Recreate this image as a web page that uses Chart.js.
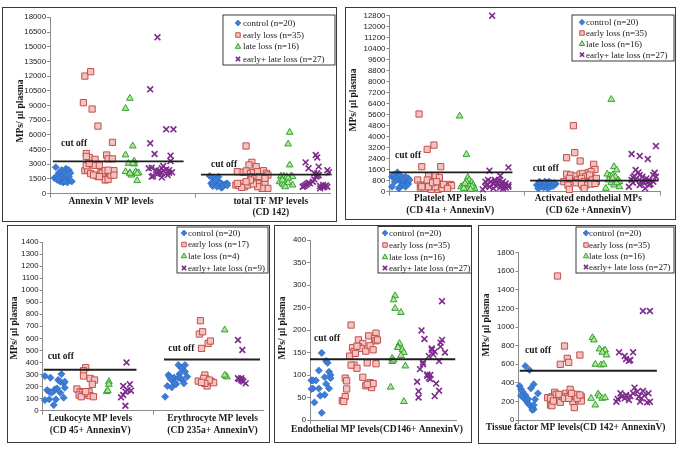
<!DOCTYPE html>
<html>
<head>
<meta charset="utf-8">
<script src="https://cdn.jsdelivr.net/npm/chart.js@4.4.0/dist/chart.umd.min.js"></script>
<style>
  html, body { margin: 0; padding: 0; background: #fff; }
  body { position: relative; width: 683px; height: 451px; overflow: hidden; }
  .panel { position: absolute; border: 1px solid #3a3a3a; box-sizing: border-box; }
  .panel div { position: absolute; left: 0; top: 0; }
</style>
</head>
<body>
<div class="panel" id="p1"><div><canvas></canvas></div></div>
<div class="panel" id="p2"><div><canvas></canvas></div></div>
<div class="panel" id="p3"><div><canvas></canvas></div></div>
<div class="panel" id="p4"><div><canvas></canvas></div></div>
<div class="panel" id="p5"><div><canvas></canvas></div></div>
<script>
// ---- data: [jitter position, MPs/µl] ----
// panel 1 : Annexin V (0-10) / total TF (10-20)
var annexinControl = [[0.4,2700],[0.8,2400],[1.1,2550],[1.3,2400],[0.6,2100],[1.0,2100],[0.3,1600],[0.5,1400],[0.7,1250],[0.9,1150],[1.1,1400],[1.3,1750],[1.5,1250],[0.8,1750],[1.0,1600],[0.5,1800],[1.4,2100],[1.2,1150],[0.6,1550],[1.0,1250]];
var annexinEarly = [[2.4,12000],[2.8,12450],[2.3,9290],[2.9,8640],[3.3,6900],[4.3,5240],[2.5,4100],[2.7,3700],[3.1,3500],[3.9,3950],[4.0,3550],[4.3,3550],[2.4,2350],[2.6,2400],[2.5,2850],[3.1,2900],[3.4,2900],[2.8,2050],[3.2,1870],[3.5,2200],[3.7,1750],[3.3,1750],[3.0,1900],[3.8,1400],[4.0,1450],[4.1,2050],[4.2,1900],[4.4,2350],[4.4,1900],[3.6,2100],[2.5,3800],[3.8,2350],[2.7,3100],[3.4,1750],[4.0,2400]];
var annexinLate = [[5.2,8700],[5.5,9730],[5.7,4870],[5.2,3950],[5.4,3100],[5.8,3330],[5.8,3030],[5.2,2250],[5.5,2140],[5.6,1900],[5.9,2250],[6.1,2140],[6.0,1330],[5.7,3100],[5.5,2080],[6.0,2080]];
var annexinBoth = [[7.4,15960],[6.9,10650],[6.9,5140],[7.2,4050],[8.0,6570],[8.5,6570],[8.3,3880],[8.3,3330],[6.8,2590],[7.0,2650],[7.3,2400],[7.5,2350],[7.7,2590],[7.8,2820],[8.0,2480],[7.6,2080],[7.4,2000],[7.0,1740],[7.1,1800],[7.7,1670],[8.1,1900],[8.2,2140],[8.4,2180],[8.2,2400],[7.5,2250],[7.7,2180],[8.0,2080]];
var tfControl = [[11.0,1800],[11.3,1560],[11.6,1730],[11.1,1050],[11.3,990],[11.4,1220],[11.6,880],[11.8,1050],[11.9,880],[12.1,990],[12.2,1050],[11.2,780],[11.5,710],[11.8,610],[11.2,1220],[11.7,1120],[12.0,880],[11.4,1390],[11.9,710],[12.2,850]];
var tfEarly = [[13.5,4870],[13.9,3200],[13.7,2930],[14.2,2760],[12.9,2250],[13.3,2180],[13.5,2320],[13.8,2080],[14.0,2140],[14.3,2250],[14.7,2350],[14.9,2080],[15.0,1900],[13.9,1740],[14.1,1570],[14.4,1740],[12.8,890],[13.0,820],[13.3,1050],[13.4,710],[13.6,890],[13.9,1220],[14.2,1120],[14.4,1050],[14.7,890],[14.8,1120],[15.0,545],[14.6,545],[14.3,710],[14.0,990],[13.8,1390],[13.2,650],[14.8,1570],[12.9,1050],[13.5,1220]];
var tfLate = [[16.5,6260],[16.4,5070],[16.5,2930],[15.9,1800],[16.1,1800],[16.3,1740],[16.6,1800],[16.7,1740],[15.8,1220],[16.0,1050],[16.1,890],[16.2,710],[16.7,890],[16.4,1570],[16.0,1390],[16.4,1120]];
var tfBoth = [[17.6,3200],[18.3,3950],[18.4,3700],[17.8,2590],[18.5,2760],[18.2,2080],[19.1,2400],[19.2,2180],[17.4,710],[17.6,890],[17.8,1120],[17.9,1050],[18.1,1220],[18.2,1460],[18.4,1800],[18.5,1900],[18.6,780],[18.8,650],[18.9,710],[19.0,850],[19.1,710],[18.6,545],[18.8,890],[17.7,990],[18.3,1740],[18.4,2080],[17.5,780]];

// panel 2 : Platelet (0-10) / Activated endothelial (10-20)
var plateletControl = [[0.2,1090],[0.3,1210],[0.6,1400],[0.5,970],[0.7,850],[0.9,730],[1.1,650],[1.3,780],[1.4,970],[0.2,360],[0.7,240],[0.8,360],[1.0,485],[1.2,360],[1.4,560],[0.4,730],[1.0,850],[1.5,850],[1.2,1090],[0.8,1210]];
var plateletEarly = [[2.2,5650],[3.3,3390],[2.8,3080],[2.4,1820],[3.8,1820],[2.9,1160],[3.4,1160],[3.7,1020],[2.1,850],[2.3,485],[2.5,410],[2.8,530],[3.0,485],[3.2,360],[3.5,560],[3.7,485],[4.0,360],[4.2,410],[4.5,530],[2.3,240],[2.6,240],[3.1,170],[3.6,170],[4.1,240],[4.3,360],[2.9,360],[3.4,360],[3.9,240],[2.4,360],[2.8,850],[3.2,650],[4.6,440],[4.0,530],[3.5,730],[4.3,240]];
var plateletLate = [[5.2,5500],[5.7,2710],[5.8,1040],[5.9,850],[6.1,650],[6.2,485],[5.3,360],[5.5,485],[5.7,310],[5.9,485],[6.3,240],[5.5,240],[5.7,730],[6.1,360],[5.6,600],[6.0,170]];
var plateletBoth = [[7.6,12800],[8.8,1770],[7.4,1530],[8.2,1160],[7.1,730],[7.3,850],[7.5,730],[7.8,850],[8.0,650],[8.3,560],[8.5,485],[8.8,360],[7.2,485],[7.4,360],[7.7,560],[7.9,410],[8.2,310],[8.4,240],[8.6,310],[6.9,170],[7.1,360],[7.8,730],[8.1,850],[8.4,730],[8.6,600],[7.7,240],[8.8,485]];
var activatedControl = [[10.9,485],[11.1,650],[11.2,560],[11.4,600],[11.6,650],[11.8,560],[12.0,600],[12.1,485],[12.3,560],[11.0,240],[11.2,360],[11.4,310],[11.5,410],[11.7,240],[11.9,360],[12.1,410],[11.1,730],[11.5,730],[11.8,730],[12.2,650]];
var activatedEarly = [[13.6,4800],[13.7,2840],[13.1,2470],[14.1,2230],[15.1,1990],[15.2,1620],[13.1,1280],[13.4,1210],[13.8,1140],[14.1,1280],[14.3,1330],[14.7,1380],[14.9,1450],[14.5,1090],[14.8,1210],[13.3,850],[13.6,730],[13.9,850],[14.2,970],[14.4,730],[14.7,650],[15.0,850],[15.3,730],[12.9,730],[13.2,485],[13.3,170],[14.3,410],[14.5,485],[14.9,560],[15.2,600],[13.8,650],[14.2,560],[13.3,970],[14.4,240],[15.3,970]];
var activatedLate = [[16.4,6710],[16.6,1820],[16.8,1580],[16.1,1280],[16.3,1140],[16.5,1210],[16.7,1090],[16.9,850],[17.0,730],[16.0,240],[16.4,650],[16.6,485],[17.0,360],[16.2,850],[16.8,650],[16.5,970]];
var activatedBoth = [[17.9,2740],[18.5,2590],[19.1,2380],[19.7,3320],[18.2,1580],[18.4,1400],[18.1,1140],[18.5,1210],[18.7,1090],[19.0,970],[19.2,850],[19.5,1210],[19.6,1380],[17.9,850],[18.0,650],[17.7,360],[18.6,730],[18.8,650],[19.1,730],[19.3,560],[19.5,730],[18.9,240],[18.2,850],[18.5,485],[19.7,1090],[19.2,485],[18.0,1040]];

// panel 3 : Leukocyte (0-10) / Erythrocyte (10-20)
var leukoControl = [[0.2,287],[0.7,274],[1.7,304],[1.4,255],[1.6,241],[1.9,227],[0.4,171],[0.6,158],[1.0,163],[1.1,177],[0.8,149],[1.3,185],[2.0,191],[0.2,88],[0.6,94],[1.2,94],[1.0,47],[1.6,149],[1.9,108],[2.0,241]];
var leukoEarly = [[3.9,357],[3.7,332],[3.7,288],[4.3,268],[4.7,255],[4.5,219],[3.1,180],[3.4,158],[3.6,149],[3.3,130],[3.8,130],[4.0,144],[4.2,158],[4.3,124],[4.6,116],[3.5,116],[3.9,158]];
var leukoLate = [[6.0,241],[6.0,219],[5.8,158],[5.9,166]];
var leukoBoth = [[7.6,400],[7.9,219],[7.3,205],[7.1,111],[7.3,130],[7.5,158],[7.7,171],[8.0,166],[7.5,41]];
var eryControl = [[11.1,116],[11.3,205],[11.4,296],[11.5,282],[11.7,194],[11.8,246],[11.9,274],[12.1,221],[12.3,274],[12.4,304],[12.3,379],[12.5,268],[12.6,351],[12.7,249],[12.8,227],[12.9,324],[12.9,379],[13.1,282],[11.6,263],[12.0,227]];
var eryEarly = [[14.3,747],[14.2,636],[14.5,655],[14.4,517],[15.0,558],[15.2,578],[14.1,246],[14.7,296],[14.8,263],[15.0,241],[14.9,205],[15.3,241],[15.5,232],[14.6,268],[15.1,254],[14.7,227],[14.4,235]];
var eryLate = [[16.5,670],[16.6,288],[16.7,280],[16.5,295]];
var eryBoth = [[17.7,587],[18.1,504],[17.7,269],[17.8,262],[18.0,255],[18.1,249],[18.2,241],[18.4,227],[18.0,269]];

// panel 4 : Endothelial CD146+
var endoControl = [[0.8,149],[1.1,131],[0.6,110],[1.2,127],[1.3,107],[1.4,100],[1.4,93],[1.0,95],[0.1,88],[0.2,88],[0.4,88],[0.2,70],[0.1,69],[0.6,70],[1.3,70],[1.1,80],[0.3,39],[0.7,54],[1.0,56],[0.8,16]];
var endoEarly = [[2.8,211],[3.3,178],[3.6,170],[4.5,193],[4.0,187],[4.4,181],[2.9,161],[3.0,152],[3.3,163],[3.5,159],[3.8,153],[4.1,165],[4.3,156],[4.5,176],[4.6,178],[2.7,142],[3.1,148],[3.2,164],[3.9,127],[4.5,125],[3.0,122],[3.2,115],[2.8,122],[3.6,95],[2.4,93],[2.5,87],[2.5,69],[2.2,43],[2.4,52],[2.3,41],[4.1,83],[3.8,76],[4.2,72],[4.3,81],[3.9,79]];
var endoLate = [[5.8,276],[5.7,267],[5.8,248],[6.2,239],[6.1,170],[6.0,163],[6.0,161],[6.3,156],[6.4,150],[6.2,143],[5.6,137],[5.6,130],[6.5,120],[5.5,73],[6.4,41],[5.7,133]];
var endoBoth = [[9.0,264],[7.6,199],[7.8,180],[8.1,142],[7.7,128],[7.7,124],[7.5,113],[7.3,85],[7.4,64],[7.4,50],[8.0,98],[8.1,93],[8.2,100],[8.3,156],[8.5,152],[8.4,146],[8.3,159],[8.8,131],[8.6,81],[8.8,65],[8.5,53],[8.9,172],[9.0,178],[8.9,163],[9.2,150],[8.2,91],[8.0,101]];

// panel 5 : Tissue factor CD142+
var tissueControl = [[0.5,581],[0.8,538],[0.1,366],[0.2,330],[0.3,305],[0.5,269],[0.4,233],[0.6,204],[0.7,179],[0.8,161],[1.0,133],[1.1,115],[1.1,161],[1.2,222],[1.4,287],[1.1,384],[0.9,341],[0.2,262],[0.7,226],[1.0,108]];
var tissueEarly = [[2.8,1549],[3.3,796],[3.5,663],[3.6,620],[3.0,599],[4.4,699],[2.1,240],[2.3,161],[2.4,154],[2.4,251],[2.6,298],[2.7,276],[2.9,233],[3.0,190],[3.1,269],[3.2,251],[3.4,287],[3.5,251],[3.7,330],[3.8,240],[3.9,197],[4.0,133],[4.1,251],[4.2,276],[4.3,215],[4.5,251],[4.5,204],[2.3,233],[2.5,204],[2.9,276],[3.3,233],[3.6,233],[3.8,287],[4.2,233],[4.4,269]];
var tissueLate = [[5.3,886],[5.4,861],[5.8,764],[6.1,742],[6.2,753],[6.0,728],[6.3,699],[5.5,599],[5.9,592],[6.1,599],[5.2,233],[5.7,280],[5.8,258],[6.0,233],[6.2,240],[5.5,161]];
var tissueBoth = [[8.9,1173],[9.4,1173],[7.2,728],[8.2,728],[7.6,688],[7.7,656],[7.9,638],[8.0,645],[7.0,197],[7.1,226],[7.3,287],[7.4,251],[7.6,233],[7.7,269],[7.9,215],[8.0,258],[8.2,287],[8.3,348],[8.5,305],[8.6,251],[8.7,197],[8.8,233],[8.9,312],[9.0,262],[9.2,190],[9.3,287],[9.4,197]];

// cut off values
var p1Cutoffs = [3300, 1950];
var p2Cutoffs = [1400, 800];
var p3Cutoffs = [340, 425];
var p4Cutoffs = [135];
var p5Cutoffs = [530];

// tick labels
var p1YTicks = [0,1500,3000,4500,6000,7500,9000,10500,12000,13500,15000,16500,18000];
var p2YTicks = [0,800,1600,2400,3200,4000,4800,5600,6400,7200,8000,8800,9600,10400,11200,12000,12800];
var p3YTicks = [0,100,200,300,400,500,600,700,800,900,1000,1100,1200,1300,1400];
var p4YTicks = [0,50,100,150,200,250,300,350,400];
var p5YTicks = [0,200,400,600,800,1000,1200,1400,1600,1800];

// series + categories
var seriesNames = ['control (n=20)', 'early loss (n=35)', 'late loss (n=16)', 'early+ late loss (n=27)'];
var p3SeriesNames = ['control (n=20)', 'early loss (n=17)', 'late loss (n=4)', 'early+ late loss (n=9)'];
var p1Categories = [['Annexin V MP levels'], ['total TF MP levels', '(CD 142)']];
var p2Categories = [['Platelet MP levels', '(CD 41a + AnnexinV)'], ['Activated endothelial MPs', '(CD 62e +AnnexinV)']];
var p3Categories = [['Leukocyte MP levels', '(CD 45+ AnnexinV)'], ['Erythrocyte MP levels', '(CD 235a+ AnnexinV)']];
var p4Categories = [['Endothelial MP levels(CD146+ AnnexinV)']];
var p5Categories = [['Tissue factor MP levels(CD 142+ AnnexinV)']];
var yTitle = 'MPs/ µl plasma';

// ---- styles ----
var serif = '"Liberation Serif", "Times New Roman", serif';
var markers = [
    { style: 'rectRot', radius: 3.6, bg: '#3b7dd8', border: '#2b68bd', width: 0.6 },
    { style: 'rect', radius: 4.4, bg: '#f6c2bf', border: '#c0504d', width: 1 },
    { style: 'triangle', radius: 3.9, bg: '#b6e49c', border: '#2ea42e', width: 1 },
    { style: 'crossRot', radius: 4.1, bg: '#7d2b8c', border: '#7d2b8c', width: 1.6 }
];

var panels = [
    { id: 'p1', box: [2, 7, 335, 215], area: { left: 47, top: 9.3, right: 330.7, bottom: 185.7 },
      xMax: 19.3, xTicks: [0, 10], yTicks: p1YTicks, names: seriesNames,
      series: [annexinControl.concat(tfControl), annexinEarly.concat(tfEarly), annexinLate.concat(tfLate), annexinBoth.concat(tfBoth)],
      cutoffs: p1Cutoffs, cutSpans: [[0.2, 9.2], [10.4, 19.3]], cutLabels: [[58, 136], [208, 157]],
      yTitle: [18, 103], cats: p1Categories, catX: [4.2, 15.2], catY: 193.7, catGap: 11,
      legend: { box: [220, 7, 332, 57], rows: [15, 27, 38.5, 51], mx: 235, tx: 240 } },
    { id: 'p2', box: [345, 7, 331, 213], area: { left: 43.3, top: 7.7, right: 314, bottom: 183.7 },
      xMax: 20, xTicks: [0, 10, 20], yTicks: p2YTicks, names: seriesNames,
      series: [plateletControl.concat(activatedControl), plateletEarly.concat(activatedEarly), plateletLate.concat(activatedLate), plateletBoth.concat(activatedBoth)],
      cutoffs: p2Cutoffs, cutSpans: [[0, 9.1], [10.4, 19.9]], cutLabels: [[49, 148], [186.7, 160.3]],
      yTitle: [8, 92], cats: p2Categories, catX: [4.5, 14.7], catY: 191, catGap: 12,
      legend: { box: [226, 7, 328, 53], rows: [14.3, 25, 35.7, 46.7], mx: 236, tx: 240 } },
    { id: 'p3', box: [7, 225, 263, 218], area: { left: 34.7, top: 16, right: 257.3, bottom: 184.7 },
      xMax: 20, xTicks: [0, 10], yTicks: p3YTicks, names: p3SeriesNames,
      series: [leukoControl.concat(eryControl), leukoEarly.concat(eryEarly), leukoLate.concat(eryLate), leukoBoth.concat(eryBoth)],
      cutoffs: p3Cutoffs, cutSpans: [[0.1, 8.5], [11.0, 19.7]], cutLabels: [[39.7, 130.7], [160.3, 123]],
      yTitle: [7, 102], cats: p3Categories, catX: [4.3, 15.4], catY: 193, catGap: 12,
      legend: { box: [169, 1, 260, 47], rows: [7, 18.5, 30, 42], mx: 176, tx: 180 } },
    { id: 'p4', box: [274, 225, 198, 218], area: { left: 35, top: 14, right: 181.7, bottom: 194 },
      xMax: 10, xTicks: [0], yTicks: p4YTicks, names: seriesNames,
      series: [endoControl, endoEarly, endoLate, endoBoth],
      cutoffs: p4Cutoffs, cutSpans: [[0, 9.9]], cutLabels: [[39, 112.3]],
      yTitle: [8, 102], cats: p4Categories, catX: [4.57], catY: 204, catGap: 12,
      legend: { box: [103, 0.5, 215, 47], rows: [7, 19, 31, 42], mx: 110, tx: 114 } },
    { id: 'p5', box: [478, 225, 198, 219], area: { left: 39.3, top: 26.7, right: 179.3, bottom: 194 },
      xMax: 10, xTicks: [0], yTicks: p5YTicks, names: seriesNames,
      series: [tissueControl, tissueEarly, tissueLate, tissueBoth],
      cutoffs: p5Cutoffs, cutSpans: [[0.1, 9.9]], cutLabels: [[46, 125]],
      yTitle: [8, 99], cats: p5Categories, catX: [4.1], catY: 201.7, catGap: 12,
      legend: { box: [97, 1, 195, 47], rows: [7, 19, 30, 41], mx: 107, tx: 110 } }
];

function drawMarker(ctx, m, x, y, r) {
    ctx.beginPath();
    if (m.style === 'rectRot') {
        ctx.moveTo(x, y - r); ctx.lineTo(x + r, y); ctx.lineTo(x, y + r); ctx.lineTo(x - r, y); ctx.closePath();
    } else if (m.style === 'rect') {
        ctx.rect(x - r * 0.75, y - r * 0.75, r * 1.5, r * 1.5);
    } else if (m.style === 'triangle') {
        ctx.moveTo(x, y - r); ctx.lineTo(x + r * 0.9, y + r * 0.6); ctx.lineTo(x - r * 0.9, y + r * 0.6); ctx.closePath();
    } else {
        var d = r * 0.7;
        ctx.moveTo(x - d, y - d); ctx.lineTo(x + d, y + d); ctx.moveTo(x + d, y - d); ctx.lineTo(x - d, y + d);
        ctx.lineWidth = m.width; ctx.strokeStyle = m.border; ctx.stroke();
        return;
    }
    ctx.fillStyle = m.bg; ctx.fill();
    ctx.lineWidth = m.width; ctx.strokeStyle = m.border; ctx.stroke();
}

function decorPlugin(p) {
    return {
        id: 'decor',
        afterDatasetsDraw: function(chart) {
            var ctx = chart.ctx, xs = chart.scales.x, ys = chart.scales.y;
            ctx.save();
            // cut off lines
            p.cutoffs.forEach(function(v, i) {
                var py = ys.getPixelForValue(v);
                ctx.beginPath();
                ctx.moveTo(xs.getPixelForValue(p.cutSpans[i][0]), py);
                ctx.lineTo(xs.getPixelForValue(p.cutSpans[i][1]), py);
                ctx.lineWidth = 1.8; ctx.strokeStyle = '#1e1e1e'; ctx.stroke();
            });
            ctx.fillStyle = '#1a1a1a';
            ctx.font = 'bold 9.5px ' + serif;
            ctx.textBaseline = 'middle';
            ctx.textAlign = 'left';
            p.cutLabels.forEach(function(c) { ctx.fillText('cut off', c[0], c[1]); });
            // category labels
            ctx.textAlign = 'center';
            p.cats.forEach(function(lines, i) {
                var cx = xs.getPixelForValue(p.catX[i]);
                lines.forEach(function(t, j) { ctx.fillText(t, cx, p.catY + j * p.catGap); });
            });
            // y title
            ctx.save();
            ctx.translate(p.yTitle[0], p.yTitle[1]);
            ctx.rotate(-Math.PI / 2);
            ctx.font = 'bold 9.5px ' + serif;
            ctx.fillText(yTitle, 0, 0);
            ctx.restore();
            // legend
            var b = p.legend.box;
            ctx.fillStyle = '#fff';
            ctx.fillRect(b[0], b[1], b[2] - b[0], b[3] - b[1]);
            ctx.lineWidth = 1; ctx.strokeStyle = '#3a3a3a';
            ctx.strokeRect(b[0], b[1], b[2] - b[0], b[3] - b[1]);
            ctx.font = '9px ' + serif;
            ctx.textAlign = 'left';
            p.names.forEach(function(name, i) {
                var ry = p.legend.rows[i];
                drawMarker(ctx, markers[i], p.legend.mx, ry, 3);
                ctx.fillStyle = '#1a1a1a';
                ctx.fillText(name, p.legend.tx, ry + 0.5);
            });
            ctx.restore();
        }
    };
}

panels.forEach(function(p) {
    var el = document.getElementById(p.id);
    el.style.left = p.box[0] + 'px';
    el.style.top = p.box[1] + 'px';
    el.style.width = p.box[2] + 'px';
    el.style.height = p.box[3] + 'px';
    var W = p.box[2] - 2, H = p.box[3] - 2;
    var holder = el.firstElementChild;
    holder.style.width = W + 'px';
    holder.style.height = H + 'px';

    var datasets = p.series.map(function(pts, i) {
        var m = markers[i];
        return {
            label: p.names[i],
            data: pts.map(function(d) { return { x: d[0], y: d[1] }; }),
            pointStyle: m.style,
            pointRadius: m.radius,
            backgroundColor: m.bg,
            borderColor: m.border,
            pointBorderWidth: m.width,
            showLine: false,
            clip: false
        };
    });

    new Chart(holder.querySelector('canvas'), {
        type: 'scatter',
        data: { datasets: datasets },
        options: {
            responsive: true,
            maintainAspectRatio: false,
            animation: false,
            layout: { padding: { top: p.area.top, right: W - p.area.right, left: 0, bottom: 0 } },
            plugins: { legend: { display: false }, tooltip: { enabled: false } },
            scales: {
                x: {
                    type: 'linear', min: 0, max: p.xMax,
                    afterFit: function(s) { s.height = H - p.area.bottom; },
                    afterBuildTicks: function(s) { s.ticks = p.xTicks.map(function(v) { return { value: v }; }); },
                    ticks: { display: false },
                    grid: { drawOnChartArea: false, drawTicks: true, tickLength: 4, color: '#8c8c8c' },
                    border: { color: '#8c8c8c', width: 1 }
                },
                y: {
                    type: 'linear', min: 0, max: p.yTicks[p.yTicks.length - 1],
                    afterFit: function(s) { s.width = p.area.left; },
                    afterBuildTicks: function(s) { s.ticks = p.yTicks.map(function(v) { return { value: v }; }); },
                    ticks: {
                        autoSkip: false, padding: 1, color: '#222',
                        font: { family: '"Liberation Sans", Arial, sans-serif', size: 7.8 },
                        callback: function(v) { return String(v); }
                    },
                    grid: { drawOnChartArea: false, drawTicks: true, tickLength: 3, color: '#8c8c8c' },
                    border: { color: '#8c8c8c', width: 1 }
                }
            }
        },
        plugins: [decorPlugin(p)]
    });
});
</script>
</body>
</html>
